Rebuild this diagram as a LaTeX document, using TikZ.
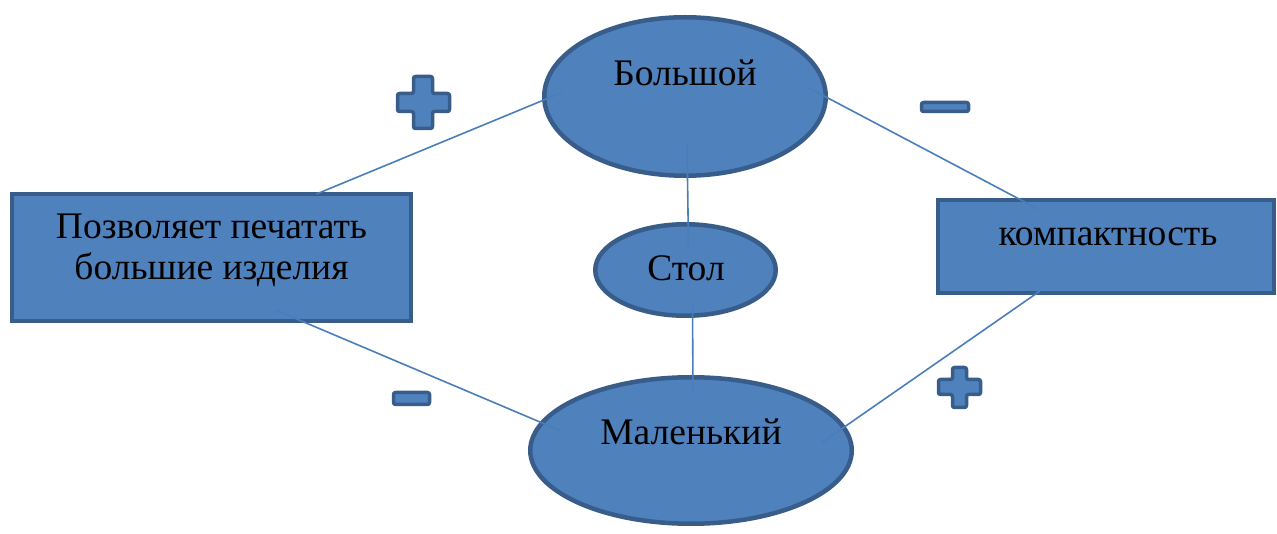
\documentclass[tikz,border=0pt]{standalone}
\usepackage{fontspec}
\setmainfont{Liberation Serif}
\usetikzlibrary{shapes.geometric,calc}
\definecolor{fillblue}{HTML}{4F81BD}
\definecolor{edgeblue}{HTML}{385D8A}
\definecolor{lineblue}{HTML}{4A7EBB}
\begin{document}
\begin{tikzpicture}[x=1pt,y=-1pt,
  shapebox/.style={draw=edgeblue,fill=fillblue,line width=4.5pt,rectangle,inner sep=0pt,outer sep=0pt},
  shapeell/.style={draw=edgeblue,fill=fillblue,line width=4.5pt,ellipse,inner sep=0pt,outer sep=0pt},
  lbl/.style={font=\fontsize{37.5}{41}\selectfont,text=black,align=center,inner sep=0pt},
  conn/.style={draw=lineblue,line width=1.6pt},
  sign/.style={draw=edgeblue,fill=fillblue,line width=3.5pt,rounded corners=2pt,line join=round}]
\useasboundingbox (0,0) rectangle (1277,534);
% shapes
\node[shapebox,minimum width=399pt,minimum height=127pt] (left) at (211.5,257.5) {};
\node[shapebox,minimum width=336pt,minimum height=93pt] (right) at (1106,246.5) {};
\node[shapeell,minimum width=281.5pt,minimum height=158.5pt] (big) at (685,96.5) {};
\node[shapeell,minimum width=180.5pt,minimum height=91.5pt] (table) at (685.5,270) {};
\node[shapeell,minimum width=321.5pt,minimum height=146.5pt] (small) at (691,450.5) {};
% texts
\node[lbl] (leftt) at (211.5,250) {Позволяет печатать\\большие изделия};
\node[lbl] (rightt) at (1108,237) {компактность};
\node[lbl] (bigt) at (685,73) {Большой};
\node[lbl] (tablet) at (686,268) {Стол};
\node[lbl] (smallt) at (691,432) {Маленький};
% connectors
\draw[conn] ($(big.center)+(-123,-4)$) -- ($(left.north)+(105,0)$);
\draw[conn] ($(big.center)+(123,-9)$) -- ($(right.north)+(-68,9)$);
\draw[conn] ($(left.south)+(64,-11)$) -- ($(small.center)+(-131,-20)$);
\draw[conn] ($(right.south)+(-66,-2)$) -- ($(small.center)+(131,-8)$);
\draw[conn] ($(big.center)+(2,47)$) -- ($(table.center)+(3,-23)$);
\draw[conn] ($(table.center)+(7,35)$) -- ($(small.center)+(2,-58)$);
% plus / minus signs
\draw[sign] (413.5,76.5) -- (432.5,76.5) -- (432.5,93.5) -- (449.5,93.5) -- (449.5,111.5) -- (432.5,111.5) -- (432.5,128.5) -- (413.5,128.5) -- (413.5,111.5) -- (397.5,111.5) -- (397.5,93.5) -- (413.5,93.5) -- cycle;
\draw[sign] (952.5,367.5) -- (966.5,367.5) -- (966.5,379.5) -- (980.5,379.5) -- (980.5,394.5) -- (966.5,394.5) -- (966.5,407.5) -- (952.5,407.5) -- (952.5,394.5) -- (938.5,394.5) -- (938.5,379.5) -- (952.5,379.5) -- cycle;
\draw[sign] (921.5,102.5) rectangle (968.5,111.5);
\draw[sign] (393.5,392.5) rectangle (429.5,404.5);
\end{tikzpicture}
\end{document}
